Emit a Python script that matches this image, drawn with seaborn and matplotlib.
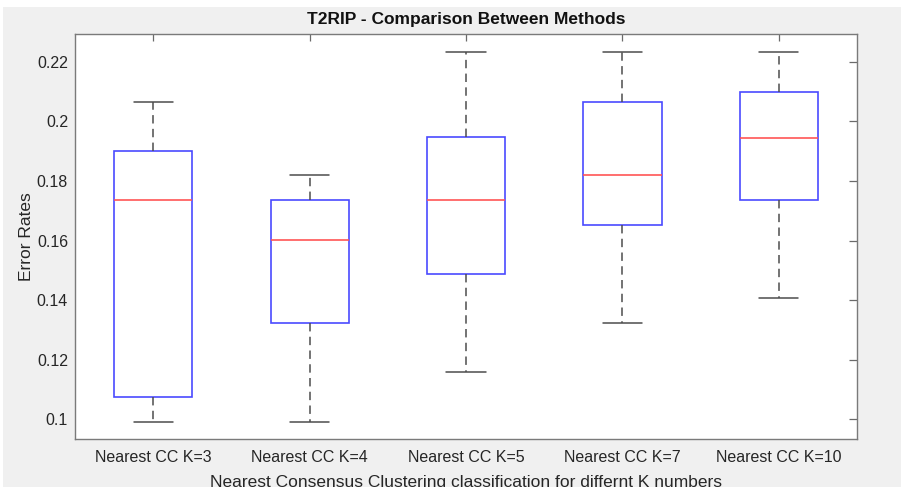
import numpy as np
import pandas as pd
import matplotlib
matplotlib.use("Agg")
import matplotlib.pyplot as plt
from matplotlib.patches import Rectangle
from matplotlib.ticker import FormatStrFormatter
import seaborn as sns

# values: min, q1, median, q3, max per method
methods = ["Nearest CC K=3", "Nearest CC K=4", "Nearest CC K=5",
           "Nearest CC K=7", "Nearest CC K=10"]
k3 = [0.0991, 0.1075, 0.1735, 0.1901, 0.2065]
k4 = [0.0991, 0.1322, 0.1603, 0.1735, 0.1819]
k5 = [0.1157, 0.1488, 0.1735, 0.1949, 0.2233]
k7 = [0.1322, 0.1652, 0.1819, 0.2066, 0.2233]
k10 = [0.1406, 0.1735, 0.1944, 0.2100, 0.2233]

df = pd.DataFrame({
    "method": np.repeat(methods, 5),
    "error": k3 + k4 + k5 + k7 + k10,
})

sns.set_style("white")
plt.rcParams["font.family"] = ["Liberation Sans", "DejaVu Sans"]

fig = plt.figure(figsize=(9.01, 4.87), dpi=100, facecolor="#f0f0f0")
# white strips along the top and left edge of the screenshot
fig.add_artist(Rectangle((0, 1 - 7 / 487), 1, 7 / 487, transform=fig.transFigure,
                         facecolor="white", edgecolor="none", zorder=-1))
fig.add_artist(Rectangle((0, 0), 3 / 901, 1, transform=fig.transFigure,
                         facecolor="white", edgecolor="none", zorder=-1))
ax = fig.add_axes([75 / 901, 1 - 439 / 487, 782 / 901, 405 / 487])

blue = "#4a4aff"
red = "#ff5555"
gray = "#4d4d4d"
sns.boxplot(data=df, x="method", y="error", order=methods, ax=ax,
            width=0.5, whis=(0, 100), fill=True, color="white",
            linecolor=blue, linewidth=1.2,
            boxprops=dict(facecolor="white", edgecolor=blue, linewidth=1.2),
            medianprops=dict(color=red, linewidth=1.2),
            whiskerprops=dict(color=gray, linewidth=1.1, linestyle=(0, (5.5, 3.5))),
            capprops=dict(color=gray, linewidth=1.1),
            capwidths=0.25)

ax.set_xlim(-0.5, 4.5)
ax.set_ylim(0.0933, 0.2294)
ax.set_yticks([0.1, 0.12, 0.14, 0.16, 0.18, 0.2, 0.22])
ax.yaxis.set_major_formatter(FormatStrFormatter("%g"))

for s in ax.spines.values():
    s.set_color("#7a7a7a")
    s.set_linewidth(1.0)
ax.tick_params(axis="both", direction="in", length=6, width=0.9, color="#6a6a6a",
               labelsize=11.5, labelcolor="#262626", top=True, right=True)
ax.tick_params(axis="y", pad=5)
ax.tick_params(axis="x", pad=8, length=5)

ax.set_title("T2RIP - Comparison Between Methods", fontsize=12.5,
             fontweight="bold", color="#111111", pad=7)
ax.set_ylabel("Error Rates", fontsize=12.5, color="#262626", labelpad=2)
ax.set_xlabel("Nearest Consensus Clustering classification for differnt K numbers",
              fontsize=12.5, color="#262626", labelpad=7)

fig.savefig("out.png", dpi=100, facecolor=fig.get_facecolor())
